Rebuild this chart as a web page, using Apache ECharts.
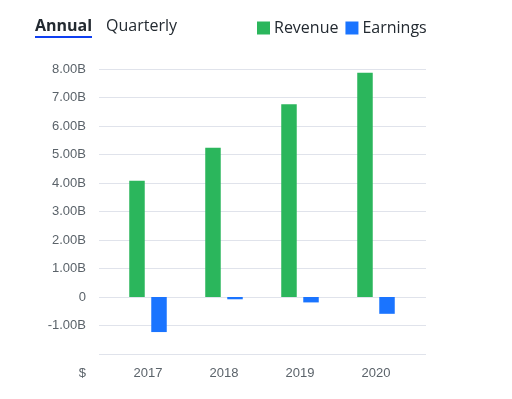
<!DOCTYPE html>
<html>
<head>
<meta charset="utf-8">
<script src="https://cdn.jsdelivr.net/npm/echarts@6/dist/echarts.min.js"></script>
<style>
html,body{margin:0;padding:0;background:#fff;}
#c{width:512px;height:399px;}
</style>
</head>
<body>
<div id="c"></div>
<script>
var categories = ['2017', '2018', '2019', '2020'];
var revenue = [4.08, 5.24, 6.76, 7.87];
var earnings = [-1.23, -0.08, -0.19, -0.59];
var yTicks = [-2, -1, 0, 1, 2, 3, 4, 5, 6, 7, 8];

var chart = echarts.init(document.getElementById('c'), null, {renderer: 'canvas'});
var yMin = yTicks[0], yMax = yTicks[yTicks.length - 1];
function fmt(v) {
  if (v === yMin) return '';
  if (v === 0) return '0';
  return v.toFixed(2) + 'B';
}
var labelColor = '#5b636a';
var font = 'Liberation Sans, Arial, sans-serif';
chart.setOption({
  animation: false,
  grid: [
    {left: 99, right: 86, top: 69, bottom: 45},
    {left: 110, width: 304, top: 69, bottom: 45}
  ],
  xAxis: [
    {gridIndex: 0, type: 'value', show: false, min: 0, max: 1},
    {gridIndex: 1, type: 'category', data: categories,
     axisLine: {show: false}, axisTick: {show: false},
     axisLabel: {color: labelColor, fontSize: 13, fontFamily: font, margin: 13}}
  ],
  yAxis: [
    {gridIndex: 0, type: 'value', min: yMin, max: yMax, interval: 1,
     axisLine: {show: false}, axisTick: {show: false},
     splitLine: {lineStyle: {color: '#e0e3eb', width: 1}},
     axisLabel: {color: labelColor, fontSize: 13, fontFamily: font, margin: 13, formatter: fmt}},
    {gridIndex: 1, type: 'value', min: yMin, max: yMax, interval: 1, show: false,
     splitLine: {show: false}}
  ],
  legend: {
    left: 257, top: 20, padding: 0, itemWidth: 13, itemHeight: 13, itemGap: 7,
    icon: 'rect',
    textStyle: {fontSize: 16, color: '#232a31', fontFamily: 'Open Sans, sans-serif', padding: [0, 0, 0, -1]},
    data: ['Revenue', 'Earnings']
  },
  series: [
    {name: 'Revenue', type: 'bar', xAxisIndex: 1, yAxisIndex: 1, data: revenue,
     barWidth: 15.5, barGap: '42%', itemStyle: {color: '#2bb65c'}},
    {name: 'Earnings', type: 'bar', xAxisIndex: 1, yAxisIndex: 1, data: earnings,
     barWidth: 15.5, barGap: '42%', itemStyle: {color: '#1a74ff'}}
  ],
  graphic: [
    {type: 'text', left: 35, top: 18, style: {text: 'Annual', font: 'bold 16px Open Sans, sans-serif', fill: '#232a31'}},
    {type: 'rect', shape: {x: 35, y: 36, width: 57, height: 2}, style: {fill: '#0f3ff0'}},
    {type: 'text', left: 106, top: 18, style: {text: 'Quarterly', font: '16px Open Sans, sans-serif', fill: '#232a31'}},
    {type: 'text', x: 86, y: 373, style: {text: '$', font: '13px Liberation Sans, Arial, sans-serif', fill: labelColor, align: 'right', verticalAlign: 'middle'}}
  ]
});
</script>
</body>
</html>
